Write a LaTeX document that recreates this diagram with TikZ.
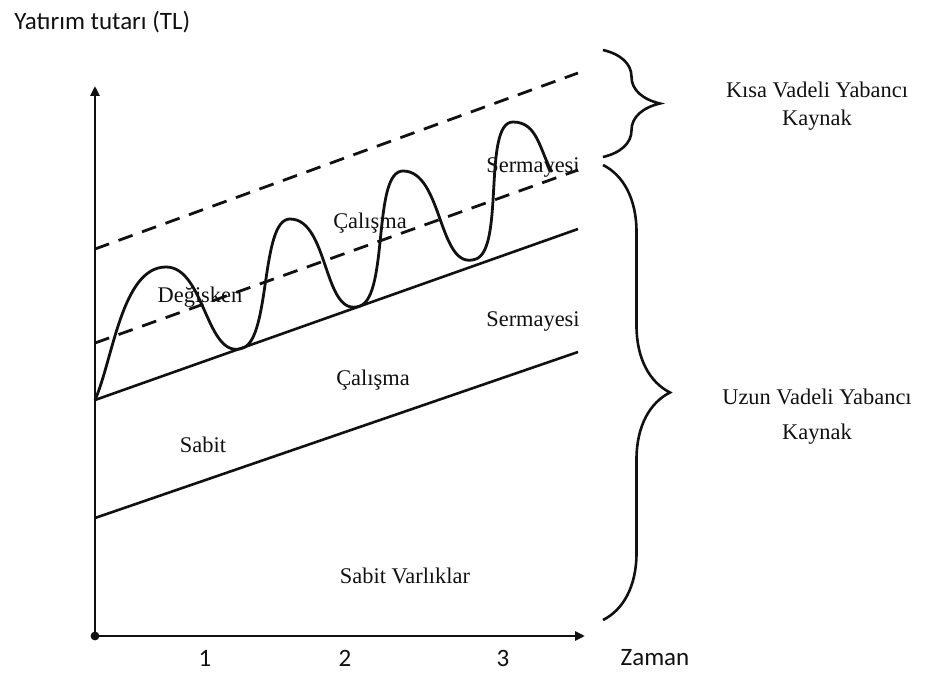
\documentclass[tikz,border=0pt]{standalone}
\usepackage{fontspec}
\setmainfont{Liberation Serif}
\newfontfamily\calib{Carlito}
\usetikzlibrary{arrows.meta,decorations.pathreplacing}
\definecolor{ink}{HTML}{111111}
\tikzset{>={Triangle[length=5pt,width=4.5pt]},
  axis/.style={line width=1.4pt,draw=ink},
  edge/.style={line width=1.3pt,draw=ink},
  dashedge/.style={line width=1.4pt,draw=ink,dash pattern=on 7.5pt off 5pt},
  wave/.style={line width=1.4pt,draw=ink},
  brc/.style={line width=1.3pt,draw=ink,decorate,decoration={brace,amplitude=#1}},
  area/.style={font=\fontsize{11.2}{14}\selectfont,text=ink,inner sep=0pt},
  side/.style={font=\fontsize{11.2}{#1}\selectfont,text=ink,align=center,inner sep=0pt},
  axlab/.style={font=\calib\fontsize{12.5}{15}\selectfont,text=ink,inner sep=0pt}}
\begin{document}
\begin{tikzpicture}[x=0.5pt,y=0.5pt]
\useasboundingbox (0,0) rectangle (927,-673);
% axes
\coordinate (O) at (95,-636);
\coordinate (ytop) at (95,-86);
\coordinate (xend) at (585,-636);
\draw[axis,->] (O) -- (ytop);
\draw[axis,->] (O) -- (xend);
\fill[ink] (O) circle (2.2pt);
\node[axlab,anchor=west] (ttl) at (14,-22) {Yatırım tutarı (TL)};
\node[axlab] (t1) at (205,-658) {1};
\node[axlab] (t2) at (345,-658) {2};
\node[axlab] (t3) at (503,-658) {3};
\node[axlab] (zmn) at (655,-658) {Zaman};
% straight lines
\coordinate (a0) at (95,-518); \coordinate (a1) at (578,-352);
\coordinate (b0) at (95,-400); \coordinate (b1) at (578,-229);
\coordinate (c0) at (95,-343); \coordinate (c1) at (578,-170);
\coordinate (d0) at (95,-249); \coordinate (d1) at (578,-73);
\draw[edge] (a0) -- (a1);
\draw[edge] (b0) -- (b1);
\draw[dashedge] (c0) -- (c1);
\draw[dashedge] (d0) -- (d1);
% fluctuating part
\draw[wave] (b0) to[out=66,in=180,looseness=0.75] (166,-267)
  to[out=0,in=200,looseness=0.9] (243,-348)
  to[out=20,in=180,looseness=0.55] (290,-219)
  to[out=0,in=200,looseness=0.9] (360,-306)
  to[out=20,in=180,looseness=0.55] (403,-171)
  to[out=0,in=200,looseness=0.9] (476,-259)
  to[out=20,in=180,looseness=0.55] (513,-122)
  to[out=0,in=120] (552,-172);
% area labels
\node[area] (dgs) at (200,-297) {Değisken};
\node[area] (cal1) at (370,-223) {Çalışma};
\node[area] (ser1) at (533,-168) {Sermayesi};
\node[area] (ser2) at (533,-322) {Sermayesi};
\node[area] (cal2) at (373,-380) {Çalışma};
\node[area] (sbt) at (203,-445) {Sabit};
\node[area] (sbv) at (405,-576) {Sabit Varlıklar};
% braces
\coordinate (k0) at (603,-50); \coordinate (k1) at (603,-157);
\coordinate (u0) at (603,-165); \coordinate (u1) at (603,-620);
\draw[brc=28.5pt] (k0) -- (k1);
\draw[brc=33.5pt] (u0) -- (u1);
\node[side=14] (ksa) at (817,-106) {Kısa Vadeli Yabancı\\Kaynak};
\node[side=17.5] (uzn) at (817,-417) {Uzun Vadeli Yabancı\\Kaynak};
\end{tikzpicture}
\end{document}
